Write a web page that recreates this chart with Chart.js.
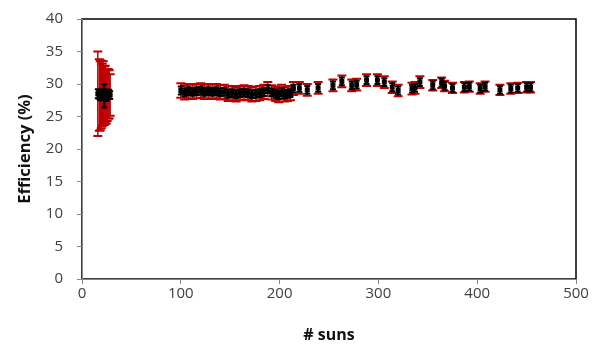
<!DOCTYPE html>
<html>
<head>
<meta charset="utf-8">
<title>Efficiency vs suns</title>
<script src="https://cdn.jsdelivr.net/npm/chart.js@4.4.1/dist/chart.umd.min.js"></script>
<style>
  html, body { margin: 0; padding: 0; background: #fff; }
  #wrap { width: 601px; height: 345px; position: relative; }
</style>
</head>
<body>
<div id="wrap"><canvas id="chart"></canvas></div>
<script>
// concentration (# suns) and measured efficiency (%)
const suns = [
  16, 17.5, 18.5, 19.5, 20.5, 21.5, 22.5, 23.5, 24.5, 25.5, 26.5, 27.5, 28.5,
  100, 104, 108, 112, 116, 120, 124, 128, 132, 136, 140, 144, 148, 152, 156, 160,
  164, 168, 172, 176, 180, 184, 188, 192, 196, 199, 202, 205, 208, 211, 214,
  220, 228, 239, 254, 263, 273, 278, 288, 299, 306, 314, 320, 334, 337, 342,
  355, 364, 367, 375, 387, 392, 403, 408, 423, 434, 441, 450, 454
];
const efficiency = [
  28.5, 28.3, 28.2, 28.4, 28.3, 28.6, 28.2, 28.4, 28.0, 28.3, 28.5, 28.4, 28.3,
  29.0, 28.7, 28.9, 28.8, 28.9, 29.0, 28.8, 28.9, 28.8, 28.9, 28.7, 28.8, 28.5, 28.6, 28.4, 28.6,
  28.7, 28.6, 28.4, 28.5, 28.6, 28.8, 29.2, 28.7, 28.5, 28.3, 28.8, 28.4, 28.5, 28.6, 29.3,
  29.4, 29.1, 29.4, 29.8, 30.4, 29.8, 29.9, 30.6, 30.6, 30.3, 29.5, 29.0, 29.3, 29.4, 30.3,
  29.8, 30.2, 29.7, 29.4, 29.5, 29.6, 29.3, 29.6, 29.1, 29.3, 29.4, 29.5, 29.5
];
// +/- uncertainty shown in red (larger) and black (smaller)
const redErr = [
  6.5, 5.5, 5.3, 5.2, 4.8, 4.9, 4.5, 4.4, 4.1, 4.0, 3.8, 3.7, 3.2,
  1.1, 1.1, 1.1, 1.1, 1.1, 1.1, 1.1, 1.1, 1.1, 1.1, 1.1, 1.1, 1.1, 1.1, 1.1, 1.1,
  1.1, 1.1, 1.1, 1.1, 1.1, 1.1, 1.1, 1.1, 1.1, 1.1, 1.1, 1.1, 1.1, 1.1, 1.0,
  0.9, 0.9, 0.9, 0.9, 0.9, 0.9, 0.9, 0.9, 0.9, 0.9, 0.9, 0.9, 0.9, 0.9, 0.9,
  0.8, 0.8, 0.8, 0.8, 0.8, 0.8, 0.8, 0.8, 0.8, 0.8, 0.8, 0.8, 0.8
];
const blackErr = [
  0.7, 0.6, 0.7, 0.6, 0.7, 0.6, 1.8, 0.7, 0.6, 0.7, 0.6, 0.7, 0.6,
  0.6, 0.6, 0.6, 0.6, 0.6, 0.6, 0.6, 0.6, 0.6, 0.6, 0.6, 0.6, 0.6, 0.6, 0.6, 0.6,
  0.6, 0.6, 0.6, 0.6, 0.6, 0.6, 0.6, 0.6, 0.6, 0.6, 0.6, 0.6, 0.6, 0.6, 0.6,
  0.6, 0.6, 0.6, 0.6, 0.6, 0.6, 0.6, 0.6, 0.6, 0.6, 0.6, 0.6, 0.6, 0.6, 0.6,
  0.6, 0.6, 0.6, 0.6, 0.6, 0.6, 0.6, 0.6, 0.6, 0.6, 0.6, 0.6, 0.6
];
const xTicks = [0, 100, 200, 300, 400, 500];
const yTicks = [0, 5, 10, 15, 20, 25, 30, 35, 40];

const FONT = "'Open Sans', 'Liberation Sans', sans-serif";
const AXIS_GREY = '#868686';

// black frame round the plot area (left/bottom get covered by grey axes)
const plotFrame = {
  id: 'plotFrame',
  beforeDraw(chart) {
    const { ctx, chartArea: a } = chart;
    ctx.save();
    ctx.strokeStyle = '#000';
    ctx.lineWidth = 1.5;
    ctx.strokeRect(a.left, a.top, a.right - a.left, a.bottom - a.top);
    ctx.restore();
  }
};

// vertical error bars with caps, placed through the chart scales
const errorBars = {
  id: 'errorBars',
  beforeDatasetsDraw(chart) {
    const { ctx, scales: { x, y } } = chart;
    const draw = (errs, color, stemWidth, capHalf, capWidth) => {
      ctx.strokeStyle = color;
      suns.forEach((s, i) => {
        const px = x.getPixelForValue(s);
        const top = y.getPixelForValue(efficiency[i] + errs[i]);
        const bot = y.getPixelForValue(efficiency[i] - errs[i]);
        ctx.lineWidth = stemWidth;
        ctx.beginPath();
        ctx.moveTo(px, top);
        ctx.lineTo(px, bot);
        ctx.stroke();
        ctx.lineWidth = capWidth;
        ctx.beginPath();
        ctx.moveTo(px - capHalf, top);
        ctx.lineTo(px + capHalf, top);
        ctx.moveTo(px - capHalf, bot);
        ctx.lineTo(px + capHalf, bot);
        ctx.stroke();
      });
    };
    ctx.save();
    draw(redErr, '#c00000', 1.5, 4.5, 2);
    draw(blackErr, '#000', 2.5, 3, 2);
    ctx.restore();
  }
};

new Chart(document.getElementById('chart'), {
  type: 'scatter',
  data: {
    datasets: [{
      label: 'Efficiency',
      data: suns.map((s, i) => ({ x: s, y: efficiency[i] })),
      pointStyle: 'rect',
      radius: 3.5,
      backgroundColor: '#000',
      borderColor: '#000',
      borderWidth: 0
    }]
  },
  options: {
    responsive: true,
    maintainAspectRatio: false,
    devicePixelRatio: 1,
    animation: false,
    layout: { padding: { top: 19, right: 25, left: 0, bottom: 0 } },
    plugins: {
      legend: { display: false },
      tooltip: { enabled: false }
    },
    scales: {
      x: {
        type: 'linear',
        min: 0,
        max: 500,
        afterBuildTicks: s => { s.ticks = xTicks.map(v => ({ value: v })); },
        afterFit: s => { s.height = 66; },
        grid: { drawOnChartArea: false, drawTicks: true, tickLength: 5, color: AXIS_GREY },
        border: { color: AXIS_GREY, width: 1 },
        ticks: { color: '#404040', font: { family: FONT, size: 15 }, padding: 1, maxRotation: 0 },
        title: {
          display: true,
          text: '# suns',
          color: '#111',
          font: { family: FONT, size: 16, weight: 'bold' },
          padding: { top: 2, bottom: 0 }
        }
      },
      y: {
        min: 0,
        max: 40,
        afterBuildTicks: s => { s.ticks = yTicks.map(v => ({ value: v })); },
        // fixed width; keep the label padding from pushing the plot top down
        afterFit: s => { s.width = 82; s.paddingTop = 4; s.paddingBottom = 4; },
        grid: { drawOnChartArea: false, drawTicks: true, tickLength: 5, color: AXIS_GREY },
        border: { color: AXIS_GREY, width: 1 },
        ticks: { color: '#404040', font: { family: FONT, size: 15 }, padding: 14 },
        title: {
          display: true,
          text: 'Efficiency (%)',
          color: '#111',
          font: { family: FONT, size: 16.5, weight: 'bold' },
          padding: { top: 15, bottom: 0 }
        }
      }
    }
  },
  plugins: [plotFrame, errorBars]
});
</script>
</body>
</html>
